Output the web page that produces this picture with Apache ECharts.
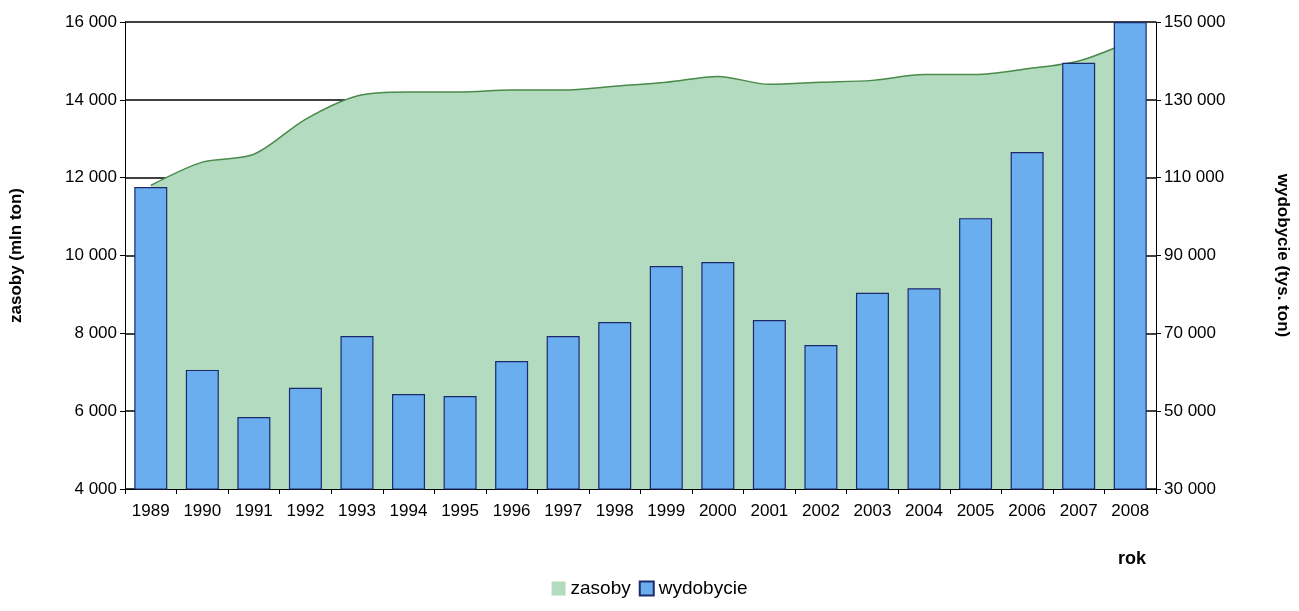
<!DOCTYPE html>
<html><head><meta charset="utf-8">
<script src="https://cdn.jsdelivr.net/npm/echarts@6/dist/echarts.min.js"></script>
<style>html,body{margin:0;background:#fff}#main{width:1299px;height:611px}</style>
</head><body><div id="main"></div>
<script>
var years = ['1989','1990','1991','1992','1993','1994','1995','1996','1997','1998','1999','2000','2001','2002','2003','2004','2005','2006','2007','2008'];
var zasoby = [11800,12400,12600,13500,14100,14200,14200,14250,14250,14350,14450,14600,14400,14450,14500,14650,14650,14800,15000,15500];
var wydobycie = [107600,60600,48500,56000,69300,54400,53900,62900,69300,72900,87300,88300,73400,67000,80400,81600,99600,116600,139500,150000];

function fmt(v){ return String(v).replace(/\B(?=(\d{3})+(?!\d))/g,' '); }
var font = 'Arial, "Liberation Sans", sans-serif';

var chart = echarts.init(document.getElementById('main'));
chart.setOption({
  animation:false,
  textStyle:{fontFamily:font},
  grid:{left:120,right:139,top:22,bottom:122},
  legend:{bottom:8,left:'center',itemWidth:14,itemHeight:14,itemGap:8,
    textStyle:{fontSize:19,color:'#000',fontFamily:font},
    data:[{name:'zasoby',icon:'rect'},{name:'wydobycie',icon:'rect'}]},
  graphic:[{type:'text',left:1118,top:550,style:{text:'rok',font:'bold 18px Arial, "Liberation Sans", sans-serif',fill:'#000'}}],
  xAxis:{type:'category',data:years,boundaryGap:true,
    axisLine:{lineStyle:{color:'#000'}},axisTick:{show:true,lineStyle:{color:'#000'}},
    axisLabel:{color:'#000',fontSize:17,margin:14}},
  yAxis:[
    {type:'value',min:4000,max:16000,interval:2000,
     name:'zasoby (mln ton)',nameLocation:'middle',nameGap:100,
     nameTextStyle:{fontWeight:'bold',fontSize:17,color:'#000'},
     axisLine:{show:true,lineStyle:{color:'#000'}},axisTick:{show:true,lineStyle:{color:'#000'}},
     axisLabel:{color:'#000',fontSize:17,formatter:fmt},
     splitLine:{show:true,lineStyle:{color:'#000',width:1.5}}},
    {type:'value',min:30000,max:150000,interval:20000,
     name:'wydobycie (tys. ton)',nameLocation:'middle',nameGap:118,nameRotate:-90,
     nameTextStyle:{fontWeight:'bold',fontSize:17,color:'#000'},
     axisLine:{show:true,lineStyle:{color:'#000'}},axisTick:{show:true,lineStyle:{color:'#000'}},
     axisLabel:{color:'#000',fontSize:17,formatter:fmt},
     splitLine:{show:false}}
  ],
  series:[
    {name:'zasoby',type:'line',data:zasoby,yAxisIndex:0,symbol:'none',smooth:0.3,z:1,
     itemStyle:{color:'#b3dbbf',borderColor:'#4a8a4a'},
     lineStyle:{color:'#4a8a4a',width:1.5},areaStyle:{color:'#b3dbbf',opacity:1}},
    {name:'wydobycie',type:'bar',data:wydobycie,yAxisIndex:1,barWidth:33,z:5,
     itemStyle:{color:'#6aaef0',borderColor:'#1c2a6b',borderWidth:1.2}}
  ]
});
</script></body></html>
